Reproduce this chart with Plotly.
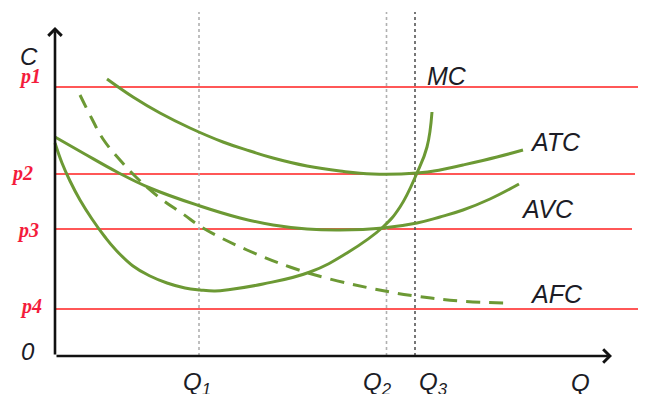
import plotly.graph_objects as go

# ---- data (Q = quantity units, C = cost units) ----
atc_q = [52, 78, 105, 135, 168, 195, 218, 252, 285, 318, 362, 385, 408, 442, 468]
atc_c = [277, 259, 243, 228, 214, 205, 198, 190, 185, 182, 183, 186, 191, 199, 206]

avc_q = [0, 28, 62, 95, 145, 185, 218, 252, 285, 328, 362, 385, 408, 435, 464]
avc_c = [219, 203, 184, 168, 150, 138, 131, 127, 126, 128, 133, 139, 146, 157, 172]

mc_q = [0, 7, 15, 25, 37, 50, 60, 78, 95, 112, 130, 145, 160, 175, 208, 255, 292, 328, 345, 362, 372, 377]
mc_c = [213, 193, 175, 156, 137, 119, 107, 90, 80, 73, 68, 66, 65, 66.5, 72, 84, 103, 129, 149, 183, 209, 244]

afc_q = [25, 37, 48, 65, 82, 105, 128, 148, 192, 235, 275, 335, 360, 405, 453]
afc_c = [261, 237, 217, 196, 178, 158, 142, 128, 106, 89, 77, 64, 60, 55, 53]

price_labels = ["p1", "p2", "p3", "p4"]
price_levels = [269, 182, 127, 47]
price_ends = [591, 580, 577, 591]

q_labels = ["Q<sub>1</sub>", "Q<sub>2</sub>", "Q<sub>3</sub>"]
q_levels = [144, 331.5, 360]
q_colors = ["#b0b0b0", "#b0b0b0", "#555555"]
q_top = 344

curve_labels = ["MC", "ATC", "AVC", "AFC"]

GREEN = "#6c9934"
RED = "#ff1f1f"
LABEL_RED = "#f41c3c"
TXT = "#1c1c26"

fig = go.Figure()

# price lines
for lvl, end in zip(price_levels, price_ends):
    fig.add_trace(go.Scatter(x=[0, end], y=[lvl, lvl], mode="lines",
                             line=dict(color=RED, width=1.5), hoverinfo="skip"))

# quantity dotted lines
for q, col in zip(q_levels, q_colors):
    fig.add_trace(go.Scatter(x=[q, q], y=[0, q_top], mode="lines",
                             line=dict(color=col, width=1.6, dash="3px,3px"), hoverinfo="skip"))

# cost curves
for xs, ys, dash in [(atc_q, atc_c, "solid"), (avc_q, avc_c, "solid"),
                     (mc_q, mc_c, "solid"), (afc_q, afc_c, "14px,9px")]:
    fig.add_trace(go.Scatter(x=xs, y=ys, mode="lines",
                             line=dict(color=GREEN, width=3, shape="spline", smoothing=1.2, dash=dash),
                             hoverinfo="skip"))

ann = []
# axes with arrows
ann.append(dict(x=0, y=329, ax=0, ay=0, xref="x", yref="y", axref="x", ayref="y",
                showarrow=True, arrowhead=4, arrowsize=1, arrowwidth=2.6, arrowcolor="#111", text=""))
ann.append(dict(x=557, y=0, ax=0, ay=0, xref="x", yref="y", axref="x", ayref="y",
                showarrow=True, arrowhead=4, arrowsize=1, arrowwidth=2.6, arrowcolor="#111", text=""))

sans = "Liberation Sans, Arial, sans-serif"
serif = "Liberation Serif, Times New Roman, serif"

def txt(x, y, s, size=24, color=TXT, family=sans):
    ann.append(dict(x=x, y=y, xref="x", yref="y", text=s, showarrow=False,
                    font=dict(family=family, size=size, color=color),
                    xanchor="center", yanchor="middle"))

txt(-26, 300, "<i>C</i>")
txt(-27, 5, "<i>0</i>")
for lab, (x, y) in zip(price_labels, [(-25, 280), (-33, 183), (-27, 126), (-24, 50)]):
    txt(x, y, "<b><i>" + lab + "</i></b>", size=20, color=LABEL_RED, family=serif)
for lab, (x, y) in zip(curve_labels, [(392, 280), (500, 214), (492, 147), (501, 62)]):
    txt(x, y, "<i>" + lab + "</i>", size=25)
for lab, x in zip(q_labels, [142, 322, 378]):
    txt(x, -27, "<i>" + lab + "</i>", size=24)
txt(525, -26, "<i>Q</i>", size=24)

# page body adds an 8px offset, compensate in the axis ranges
fig.update_layout(
    width=646, height=394, margin=dict(l=0, r=0, t=0, b=0),
    paper_bgcolor="white", plot_bgcolor="white", showlegend=False,
    xaxis=dict(range=[-47, 599], visible=False, fixedrange=True),
    yaxis=dict(range=[-46, 348], visible=False, fixedrange=True),
    annotations=ann,
)

fig.write_html("out.html")
